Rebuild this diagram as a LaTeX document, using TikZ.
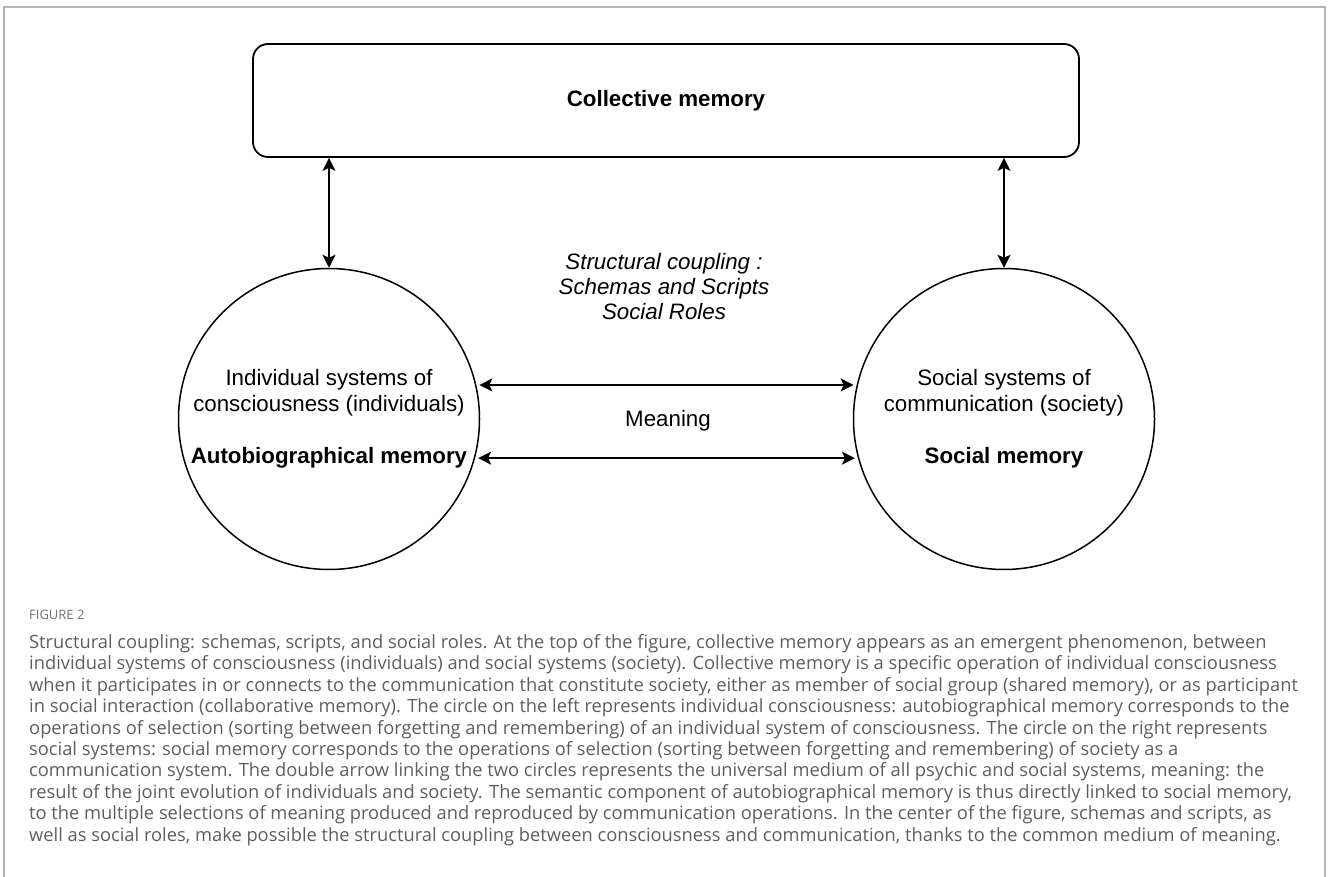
\documentclass[tikz,border=0pt]{standalone}
\usepackage{fontspec}
\setmainfont{Liberation Sans}
\newfontfamily\capfont{Open Sans}
\usetikzlibrary{arrows.meta}
\definecolor{framegray}{HTML}{B4B4B4}
\definecolor{capgray}{HTML}{5E5E5E}
\definecolor{labgray}{HTML}{707070}
\tikzset{
  memcircle/.style={draw, circle, line width=1.5pt, minimum size=301pt, inner sep=0pt, align=center},
  coupling/.style={{Stealth[length=13pt,width=13pt,inset=3pt]}-{Stealth[length=13pt,width=13pt,inset=3pt]}, line width=1.5pt, shorten <=3pt, shorten >=3pt}
}
\begin{document}
\begin{tikzpicture}[font=\fontsize{22.3}{26}\selectfont]
\useasboundingbox (0pt,0pt) rectangle (1328pt,-877pt);
\draw[color=framegray, line width=1.5pt] (4pt,-877pt) -- (4pt,-7pt) -- (1325pt,-7pt) -- (1325pt,-877pt);
\node[draw, line width=1.8pt, rounded corners=15pt, minimum width=826pt, minimum height=113pt, font=\fontsize{22.3}{26}\selectfont\bfseries] (top) at (666pt,-100.5pt) {Collective memory};
\node[memcircle] (lc) at (329pt,-419pt) {Individual systems of\\consciousness (individuals)\\[26pt]\textbf{Autobiographical memory}};
\node[memcircle] (rc) at (1004pt,-419pt) {Social systems of\\communication (society)\\[26pt]\textbf{Social memory}};
\node[align=center, font=\fontsize{22.3}{25}\selectfont\itshape] (coup) at (664pt,-287pt) {Structural coupling :\\Schemas and Scripts\\Social Roles};
\node (mean) at (668pt,-421pt) {Meaning};
\draw[coupling, shorten <=0pt, shorten >=0pt] (lc.north) -- (lc.north |- top.south);
\draw[coupling, shorten <=0pt, shorten >=0pt] (rc.north) -- (rc.north |- top.south);
\draw[coupling] (lc.13) -- (rc.167);
\draw[coupling] (lc.-15) -- (rc.195);
\node[anchor=base west, inner sep=0pt, text=labgray, font=\capfont\fontsize{13}{15}\selectfont] (fig) at (29pt,-619pt) {FIGURE 2};
\node[anchor=base west, inner sep=0pt, align=left, text=capgray, font=\capfont\fontsize{18.3}{21.4}\selectfont] (cap) at (29pt,-841pt) {Structural coupling: schemas, scripts, and social roles. At the top of the figure, collective memory appears as an emergent phenomenon, between\\
individual systems of consciousness (individuals) and social systems (society). Collective memory is a specific operation of individual consciousness\\
when it participates in or connects to the communication that constitute society, either as member of social group (shared memory), or as participant\\
in social interaction (collaborative memory). The circle on the left represents individual consciousness: autobiographical memory corresponds to the\\
operations of selection (sorting between forgetting and remembering) of an individual system of consciousness. The circle on the right represents\\
social systems: social memory corresponds to the operations of selection (sorting between forgetting and remembering) of society as a\\
communication system. The double arrow linking the two circles represents the universal medium of all psychic and social systems, meaning: the\\
result of the joint evolution of individuals and society. The semantic component of autobiographical memory is thus directly linked to social memory,\\
to the multiple selections of meaning produced and reproduced by communication operations. In the center of the figure, schemas and scripts, as\\
well as social roles, make possible the structural coupling between consciousness and communication, thanks to the common medium of meaning.};
\end{tikzpicture}
\end{document}
